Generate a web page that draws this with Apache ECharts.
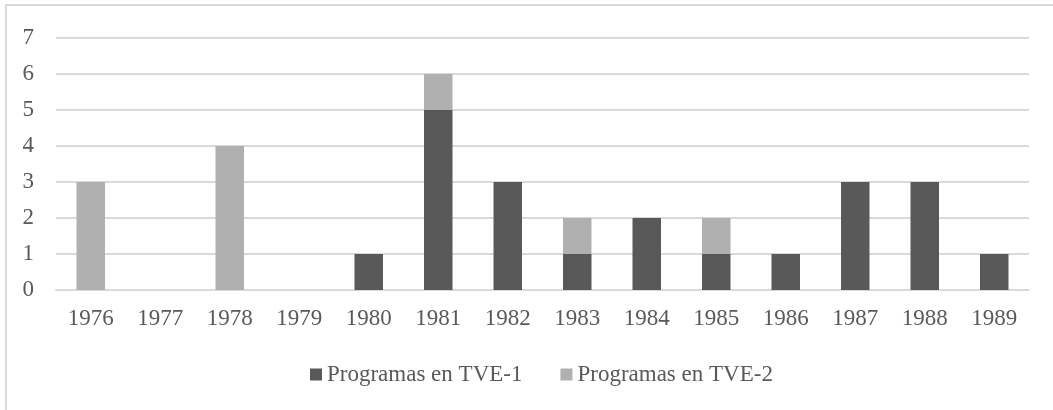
<!DOCTYPE html>
<html>
<head>
<meta charset="utf-8">
<script src="https://cdn.jsdelivr.net/npm/echarts@6/dist/echarts.min.js"></script>
<style>
html,body{margin:0;padding:0;background:#fff;}
#c{width:1053px;height:410px;}
</style>
</head>
<body>
<div id="c"></div>
<script>
const years = ['1976','1977','1978','1979','1980','1981','1982','1983','1984','1985','1986','1987','1988','1989'];
const tve1 = [0,0,0,0,1,5,3,1,2,1,1,3,3,1];
const tve2 = [3,0,4,0,0,1,0,1,0,1,0,0,0,0];
const seriesNames = ['Programas en TVE-1','Programas en TVE-2'];

const font = '"Liberation Serif", "Times New Roman", serif';
const textColor = '#595959';
const chart = echarts.init(document.getElementById('c'), null, {renderer:'canvas'});
chart.setOption({
  animation:false,
  backgroundColor:'#fff',
  graphic:[{type:'rect',shape:{x:6,y:5,width:1200,height:600},style:{fill:'none',stroke:'#d9d9d9',lineWidth:2},silent:true}],
  grid:{left:56,right:24,top:38,bottom:120},
  legend:{
    data:seriesNames,
    left:305, top:358,
    itemWidth:12,itemHeight:12,itemGap:38,
    icon:'rect',
    textStyle:{fontFamily:font,fontSize:23,color:textColor}
  },
  xAxis:{
    type:'category',data:years,
    axisLine:{lineStyle:{color:'#d9d9d9',width:2}},
    axisTick:{show:false},
    axisLabel:{fontFamily:font,fontSize:23,color:textColor,margin:17}
  },
  yAxis:{
    type:'value',min:0,max:7,interval:1,
    axisLine:{show:false},axisTick:{show:false},
    splitLine:{lineStyle:{color:'#d9d9d9',width:2}},
    axisLabel:{fontFamily:font,fontSize:23,color:textColor,margin:22,padding:[6,0,0,0]}
  },
  series:[
    {name:seriesNames[0],type:'bar',stack:'a',data:tve1,barWidth:'41%',itemStyle:{color:'#595959'}},
    {name:seriesNames[1],type:'bar',stack:'a',data:tve2,barWidth:'41%',itemStyle:{color:'#b0b0b0'}}
  ]
});
</script>
</body>
</html>
